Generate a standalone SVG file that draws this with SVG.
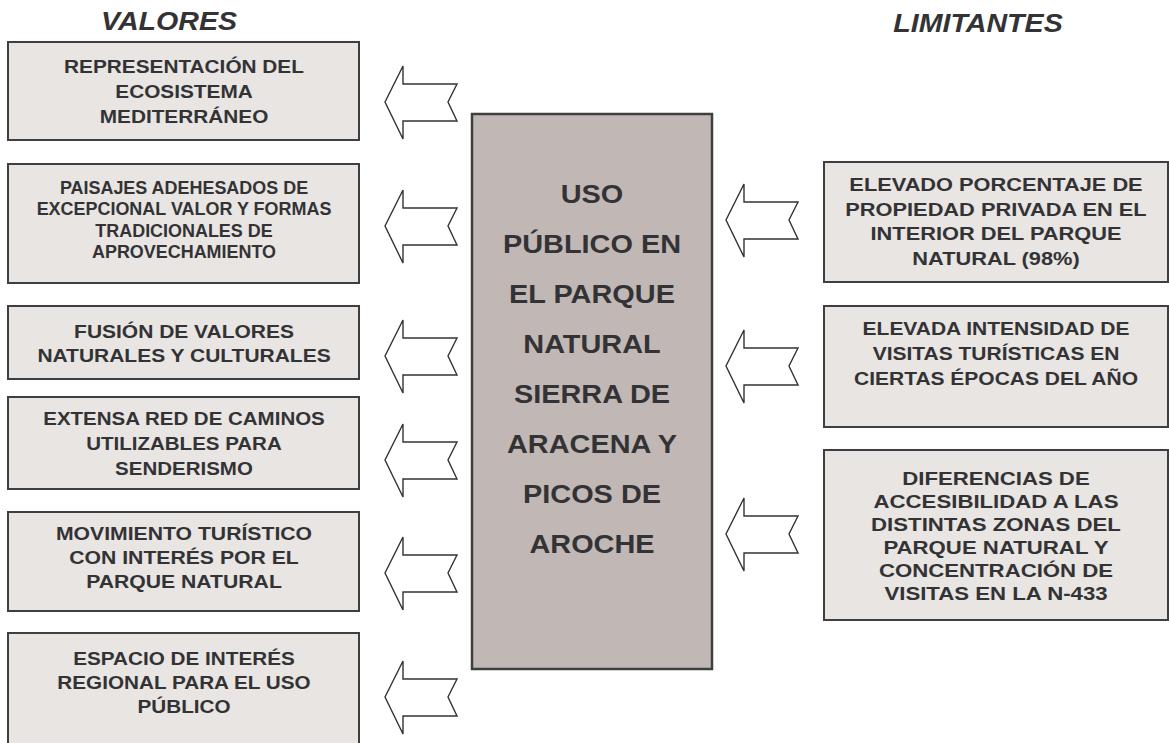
<svg xmlns="http://www.w3.org/2000/svg" xmlns:xlink="http://www.w3.org/1999/xlink" width="1169" height="743" viewBox="0 0 1169 743">
<style>
.box{fill:#e8e5e2;stroke:#3f3f42;stroke-width:2}
.center{fill:#c1b8b5;stroke:#3f3f42;stroke-width:2.5}
.t{font-family:"Liberation Sans",Arial,sans-serif;font-weight:bold;font-size:18.5px;fill:#333336;text-anchor:middle}
.ct{font-family:"Liberation Sans",Arial,sans-serif;font-weight:bold;font-size:25.5px;fill:#333336;text-anchor:middle}
.h{font-family:"Liberation Sans",Arial,sans-serif;font-weight:bold;font-style:italic;font-size:26px;fill:#333336;text-anchor:middle}
.arrow{fill:#ffffff;stroke:#333336;stroke-width:1.4;stroke-linejoin:miter}
</style>
<defs>
<path id="arr" class="arrow" d="M0 0 L18 -36 L18 -18 L72 -18 L63 0 L72 19 L18 19 L18 37 Z"/>
</defs>
<rect width="1169" height="743" fill="#ffffff"/>

<g id="header-valores" transform="translate(169,0) scale(1.1,1)"><text class="h" x="0" y="30.5">VALORES</text></g>
<g id="header-limitantes" transform="translate(978,0) scale(1.1,1)"><text class="h" x="0" y="32">LIMITANTES</text></g>

<g id="connectors">
<use xlink:href="#arr" x="385" y="102"/>
<use xlink:href="#arr" x="385" y="226"/>
<use xlink:href="#arr" x="385" y="356"/>
<use xlink:href="#arr" x="385" y="460"/>
<use xlink:href="#arr" x="385" y="573"/>
<use xlink:href="#arr" x="385" y="697"/>
<use xlink:href="#arr" x="726" y="220"/>
<use xlink:href="#arr" x="726" y="366"/>
<use xlink:href="#arr" x="726" y="534"/>
</g>

<g id="center-node">
<rect class="center" x="472" y="114" width="240" height="555"/>
<g transform="translate(592,0) scale(1.133,1)">
<text class="ct" x="0" y="203">USO</text>
<text class="ct" x="0" y="253">PÚBLICO EN</text>
<text class="ct" x="0" y="303">EL PARQUE</text>
<text class="ct" x="0" y="353">NATURAL</text>
<text class="ct" x="0" y="403">SIERRA DE</text>
<text class="ct" x="0" y="453">ARACENA Y</text>
<text class="ct" x="0" y="503">PICOS DE</text>
<text class="ct" x="0" y="553">AROCHE</text>
</g>
</g>

<g id="valor-1">
<rect class="box" x="8" y="42" width="351" height="98"/>
<g transform="translate(184,0) scale(1.124,1)">
<text class="t" x="0" y="73">REPRESENTACIÓN DEL</text>
<text class="t" x="0" y="98">ECOSISTEMA</text>
<text class="t" x="0" y="123">MEDITERRÁNEO</text>
</g>
</g>

<g id="valor-2">
<rect class="box" x="8" y="164" width="351" height="119"/>
<g transform="translate(184,0) scale(0.97,1)">
<text class="t" x="0" y="194">PAISAJES ADEHESADOS DE</text>
<text class="t" x="0" y="215.5">EXCEPCIONAL VALOR Y FORMAS</text>
<text class="t" x="0" y="237">TRADICIONALES DE</text>
<text class="t" x="0" y="258.5">APROVECHAMIENTO</text>
</g>
</g>

<g id="valor-3">
<rect class="box" x="8" y="306" width="351" height="73"/>
<g transform="translate(184,0) scale(1.135,1)">
<text class="t" x="0" y="338.5">FUSIÓN DE VALORES</text>
<text class="t" x="0" y="362.5">NATURALES Y CULTURALES</text>
</g>
</g>

<g id="valor-4">
<rect class="box" x="8" y="397" width="351" height="92"/>
<g transform="translate(184,0) scale(1.108,1)">
<text class="t" x="0" y="425.5">EXTENSA RED DE CAMINOS</text>
<text class="t" x="0" y="450.5">UTILIZABLES PARA</text>
<text class="t" x="0" y="475">SENDERISMO</text>
</g>
</g>

<g id="valor-5">
<rect class="box" x="8" y="512" width="351" height="99"/>
<g transform="translate(184,0) scale(1.146,1)">
<text class="t" x="0" y="540">MOVIMIENTO TURÍSTICO</text>
<text class="t" x="0" y="564">CON INTERÉS POR EL</text>
<text class="t" x="0" y="588.5">PARQUE NATURAL</text>
</g>
</g>

<g id="valor-6">
<rect class="box" x="8" y="633" width="351" height="130"/>
<g transform="translate(184,0) scale(1.119,1)">
<text class="t" x="0" y="665">ESPACIO DE INTERÉS</text>
<text class="t" x="0" y="689.5">REGIONAL PARA EL USO</text>
<text class="t" x="0" y="713.5">PÚBLICO</text>
</g>
</g>

<g id="limitante-1">
<rect class="box" x="824" y="162" width="344" height="120"/>
<g transform="translate(996,0) scale(1.178,1)">
<text class="t" x="0" y="191.5">ELEVADO PORCENTAJE DE</text>
<text class="t" x="0" y="216">PROPIEDAD PRIVADA EN EL</text>
<text class="t" x="0" y="240.5">INTERIOR DEL PARQUE</text>
<text class="t" x="0" y="265">NATURAL (98%)</text>
</g>
</g>

<g id="limitante-2">
<rect class="box" x="824" y="306" width="344" height="121"/>
<g transform="translate(996,0) scale(1.135,1)">
<text class="t" x="0" y="335">ELEVADA INTENSIDAD DE</text>
<text class="t" x="0" y="360">VISITAS TURÍSTICAS EN</text>
<text class="t" x="0" y="385">CIERTAS ÉPOCAS DEL AÑO</text>
</g>
</g>

<g id="limitante-3">
<rect class="box" x="824" y="450" width="344" height="170"/>
<g transform="translate(996,0) scale(1.2,1)">
<text class="t" x="0" y="485">DIFERENCIAS DE</text>
<text class="t" x="0" y="508">ACCESIBILIDAD A LAS</text>
<text class="t" x="0" y="531">DISTINTAS ZONAS DEL</text>
<text class="t" x="0" y="554">PARQUE NATURAL Y</text>
<text class="t" x="0" y="577">CONCENTRACIÓN DE</text>
<text class="t" x="0" y="600">VISITAS EN LA N-433</text>
</g>
</g>
</svg>
